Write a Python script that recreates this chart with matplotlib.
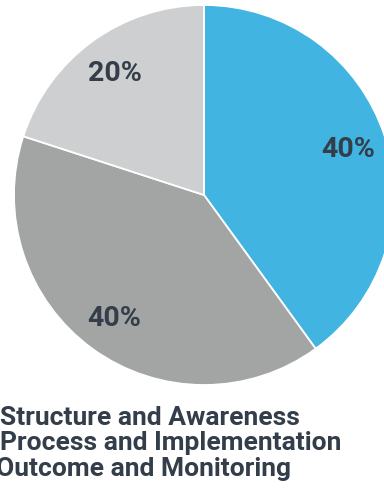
import matplotlib.pyplot as plt

# data
labels = ["Structure and Awareness", "Process and Implementation", "Outcome and Monitoring"]
values = [40, 40, 20]
colors = ["#41b4e1", "#a3a4a4", "#cecfd0"]
text_color = "#333e4a"

W, H = 384, 489
fig = plt.figure(figsize=(W / 100, H / 100), dpi=100)
ax = fig.add_axes([0, 0, 1, 1])

wedges, texts, autotexts = ax.pie(
    values, colors=colors, startangle=90, counterclock=False,
    center=(204, H - 196), radius=190,
    autopct="%d%%", pctdistance=0.8,
    wedgeprops=dict(edgecolor="white", linewidth=1.3),
    textprops=dict(color=text_color, fontsize=20.5, family="Roboto", fontweight="bold"),
)
ax.set_xlim(0, W)
ax.set_ylim(0, H)
ax.set_aspect("equal")
ax.axis("off")

# legend lines (just text, markers are off the left edge)
legend_y = [418, 443, 469]
legend_x = [0, 0, -4]
for lab, x, y in zip(labels, legend_x, legend_y):
    ax.text(x, H - y, lab, color=text_color, fontsize=19, family="Roboto",
            fontweight="bold", ha="left", va="center")

fig.savefig("out.png", dpi=100)
